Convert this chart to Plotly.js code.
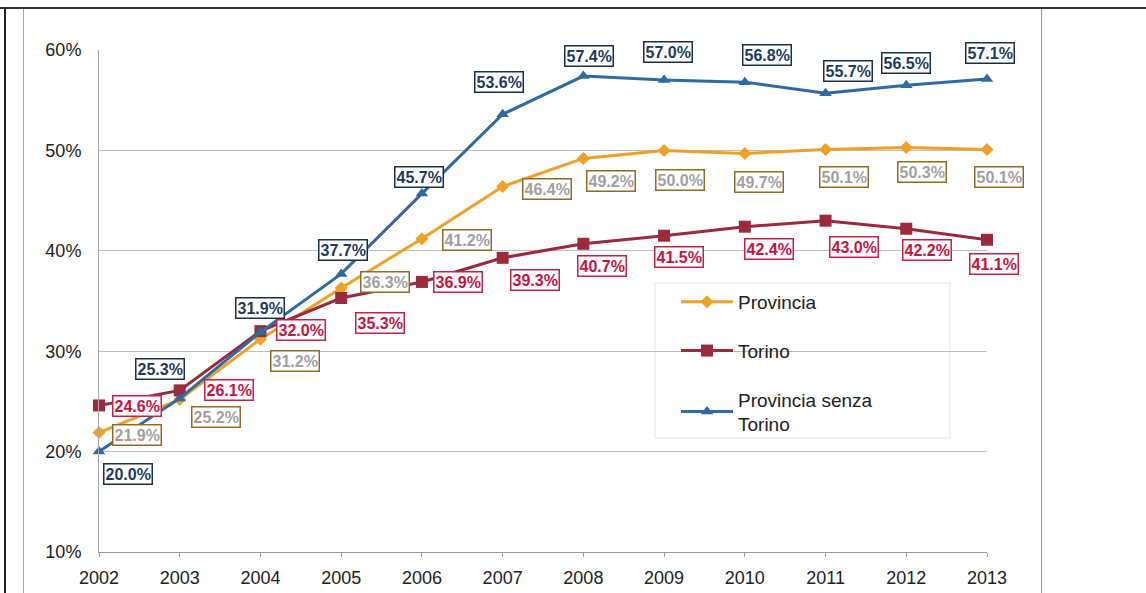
<!DOCTYPE html>
<html>
<head>
<meta charset="utf-8">
<script src="https://cdn.plot.ly/plotly-3.0.1.min.js"></script>
<style>
  html, body { margin: 0; padding: 0; background: #ffffff; }
  #wrap { position: relative; width: 1146px; height: 593px; overflow: hidden; background: #fff; }
  #chart { position: absolute; left: 0; top: 0; width: 1146px; height: 593px; }
  .ln { position: absolute; }
</style>
</head>
<body>
<div id="wrap">
  <div id="chart"></div>
  <div class="ln" style="left:0;top:7px;width:1146px;height:2px;background:#333;"></div>
  <div class="ln" style="left:4px;top:7px;width:2px;height:586px;background:#222;"></div>
  <div class="ln" style="left:23px;top:9px;width:1px;height:584px;background:#aaa;"></div>
  <div class="ln" style="left:1041px;top:9px;width:1px;height:584px;background:#999;"></div>
</div>
<script>
// ---- data ----
var years = [2002, 2003, 2004, 2005, 2006, 2007, 2008, 2009, 2010, 2011, 2012, 2013];
var provincia = [21.9, 25.2, 31.2, 36.3, 41.2, 46.4, 49.2, 50.0, 49.7, 50.1, 50.3, 50.1];
var torino = [24.6, 26.1, 32.0, 35.3, 36.9, 39.3, 40.7, 41.5, 42.4, 43.0, 42.2, 41.1];
var senzaTorino = [20.0, 25.3, 31.9, 37.7, 45.7, 53.6, 57.4, 57.0, 56.8, 55.7, 56.5, 57.1];
var seriesNames = ["Provincia", "Torino", "Provincia senza<br>Torino"];
var yTickVals = [10, 20, 30, 40, 50, 60];
var yTickText = ["10%", "20%", "30%", "40%", "50%", "60%"];

// ---- label placement (pixel offsets from each point) ----
var offProv = [[38,2],[36,18],[35,22],[44,-6],[45,1],[44,2],[28,23],[16,30],[14,29],[18,28],[16,25],[12,28]];
var offTor  = [[38,1],[49,0],[41,-1],[39,25],[36,0],[32,22],[19,22],[15,21],[24,22],[28,26],[21,21],[7,24]];
var offSenza= [[29,22],[-20,-29],[0,-24],[2,-24],[-3,-17],[-4,-32],[6,-20],[4,-28],[22,-27],[22,-22],[0,-22],[3,-26]];

var cProv = "#f0a024", cTor = "#9a2a3c", cSenza = "#2f6aa2";

var traces = [
  { x: years, y: provincia, name: seriesNames[0], mode: "lines+markers", cliponaxis: false,
    line: { color: cProv, width: 3 }, marker: { symbol: "diamond", size: 10, color: cProv },
    legendgroup: "a" },
  { x: years, y: torino, name: seriesNames[1], mode: "lines+markers", cliponaxis: false,
    line: { color: cTor, width: 3 }, marker: { symbol: "square", size: 12, color: cTor },
    legendgroup: "b" },
  { x: years, y: senzaTorino, name: seriesNames[2], mode: "lines+markers", cliponaxis: false,
    line: { color: cSenza, width: 3 }, marker: { symbol: "triangle-up", size: 11, color: cSenza },
    legendgroup: "c" }
];

function fmt(v) { return v.toFixed(1) + "%"; }

var annotations = [];
function addLabels(vals, offs, txtColor, bdColor) {
  for (var i = 0; i < years.length; i++) {
    annotations.push({
      x: years[i], y: vals[i], xref: "x", yref: "y",
      text: fmt(vals[i]), showarrow: false,
      xshift: offs[i][0], yshift: -offs[i][1],
      font: { family: "Liberation Sans, Arial, sans-serif", size: 16, color: txtColor, weight: "bold" },
      bgcolor: "#ffffff", bordercolor: bdColor, borderwidth: 1.5, borderpad: 1
    });
  }
}
addLabels(provincia, offProv, "#a0a0a0", "#8c6e26");
addLabels(torino, offTor, "#c8123e", "#c42048");
addLabels(senzaTorino, offSenza, "#1e3a5c", "#1e2e44");

// legend frame (paper coords derived from plot area 99..987 x, 50..552 y)
function px2paperX(p) { return (p - 99) / 888; }
function px2paperY(p) { return (552 - p) / 502; }

var layout = {
  width: 1146, height: 593,
  margin: { l: 99, r: 159, t: 50, b: 41 },
  paper_bgcolor: "rgba(0,0,0,0)", plot_bgcolor: "rgba(0,0,0,0)",
  font: { family: "Liberation Sans, Arial, sans-serif", color: "#222" },
  showlegend: true,
  legend: {
    x: px2paperX(676), y: px2paperY(283), xanchor: "left", yanchor: "top",
    bgcolor: "rgba(0,0,0,0)", borderwidth: 0,
    font: { size: 19, color: "#222" }, tracegroupgap: 21, itemwidth: 52,
    traceorder: "grouped"
  },
  shapes: [{
    type: "rect", xref: "paper", yref: "paper", layer: "below",
    x0: px2paperX(655), x1: px2paperX(950), y0: px2paperY(438), y1: px2paperY(283),
    fillcolor: "#ffffff", line: { color: "#e2e2e2", width: 1 }
  }],
  xaxis: {
    range: [2002, 2013], tickvals: years, ticktext: years.map(String),
    showgrid: false, zeroline: false, showline: true, linecolor: "#999", linewidth: 1,
    ticks: "outside", ticklen: 4, tickcolor: "#999", ticklabelstandoff: 5,
    tickfont: { size: 18, color: "#222" }
  },
  yaxis: {
    range: [10, 60], tickvals: yTickVals, ticktext: yTickText,
    showgrid: true, gridcolor: "#bdbdbd", gridwidth: 1,
    zeroline: false, showline: true, linecolor: "#aaa", linewidth: 1,
    ticks: "", ticklabelstandoff: 13,
    tickfont: { size: 18, color: "#222" }
  },
  annotations: annotations
};

Plotly.newPlot("chart", traces, layout, { displayModeBar: false, staticPlot: true });
</script>
</body>
</html>
